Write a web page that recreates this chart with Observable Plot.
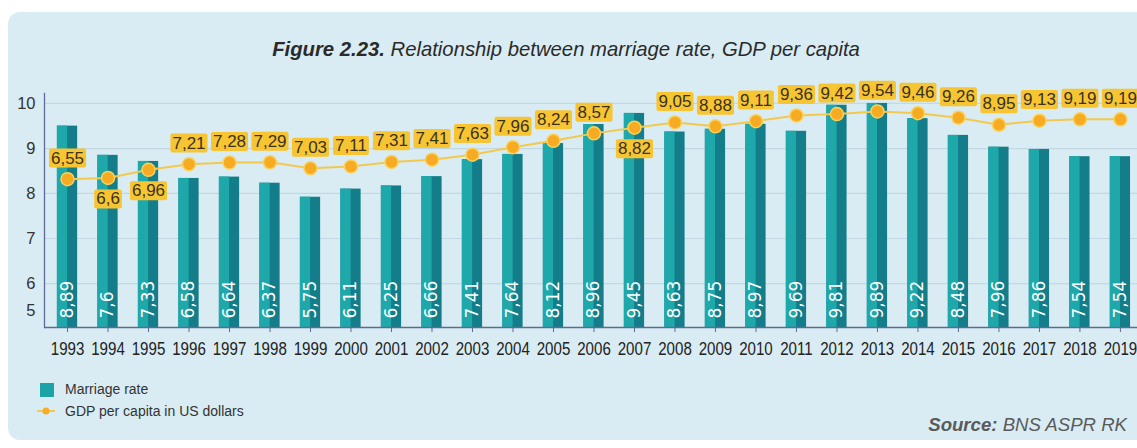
<!DOCTYPE html>
<html>
<head>
<meta charset="utf-8">
<script src="https://cdn.jsdelivr.net/npm/d3@7"></script>
<script src="https://cdn.jsdelivr.net/npm/@observablehq/plot@0.6"></script>
<style>
  html, body { margin: 0; padding: 0; background: #ffffff; }
  body { width: 1137px; height: 448px; overflow: hidden; position: relative; font-family: "Liberation Sans", Arial, sans-serif; }
  #panel { position: absolute; left: 8px; top: 12px; width: 1160px; height: 428px; background: #d9ecf3; border-radius: 12px; }
  #title { position: absolute; left: 0; top: 38px; width: 1132px; text-align: center; font-style: italic; font-size: 20.3px; color: #2a2a2a; }
  #chart { position: absolute; left: 0; top: 85px; }
  .leg { position: absolute; font-size: 14px; color: #333; }
  #source { position: absolute; right: 10px; top: 414px; font-style: italic; font-size: 18.6px; color: #5a5a5a; }
</style>
</head>
<body>
<div id="panel"></div>
<div id="title"><b>Figure 2.23.</b> Relationship between marriage rate, GDP per capita</div>
<div id="chart"></div>
<div class="leg" style="left:40px; top:383px; width:14px; height:14px; background:#1ba3a7;"></div>
<div class="leg" style="left:65px; top:381px;">Marriage rate</div>
<svg class="leg" style="left:36px; top:404px;" width="20" height="14"><line x1="1" y1="7" x2="19" y2="7" stroke="#f2c94c" stroke-width="2"/><circle cx="10" cy="7" r="3.5" fill="#f6ad24"/></svg>
<div class="leg" style="left:65px; top:403px;">GDP per capita in US dollars</div>
<div id="source"><b>Source:</b> BNS ASPR RK</div>
<script>
// ---- data ----
const years = [1993,1994,1995,1996,1997,1998,1999,2000,2001,2002,2003,2004,2005,2006,2007,2008,2009,2010,2011,2012,2013,2014,2015,2016,2017,2018,2019];
// marriage rate as drawn (bar heights)
const marriageRate = [8.89,7.6,7.33,6.58,6.64,6.37,5.75,6.11,6.25,6.66,7.41,7.64,8.12,8.96,9.45,8.63,8.75,8.97,8.66,9.81,9.89,9.22,8.48,7.96,7.86,7.54,7.54];
// labels as printed on the bars
const marriageLabels = ["8,89","7,6","7,33","6,58","6,64","6,37","5,75","6,11","6,25","6,66","7,41","7,64","8,12","8,96","9,45","8,63","8,75","8,97","9,69","9,81","9,89","9,22","8,48","7,96","7,86","7,54","7,54"];
// GDP per capita (line)
const gdpPerCapita = [6.55,6.6,6.96,7.21,7.28,7.29,7.03,7.11,7.31,7.41,7.63,7.96,8.24,8.57,8.82,9.05,8.88,9.11,9.36,9.42,9.54,9.46,9.26,8.95,9.13,9.19,9.19];
// years whose GDP label sits below the point
const gdpLabelBelow = [1994,1995,2007];
// the reference's left axis labels and where it places them on the bar scale
const yAxisLabels = ["10","9","8","7","6","5"];
const yAxisAt = [9.89,7.9,5.92,3.93,1.94,0.75];

const rows = years.map((year, i) => ({
  year,
  marriage: marriageRate[i],
  mLabel: marriageLabels[i],
  gdp: gdpPerCapita[i],
  gLabel: String(gdpPerCapita[i]).replace(".", ","),
  below: gdpLabelBelow.includes(year)
}));

const LABEL_FILL = "#3a3221";

const chart = Plot.plot({
  width: 1137,
  height: 280,
  marginLeft: 44,
  marginRight: 0,
  marginTop: 8,
  marginBottom: 38,
  style: { background: "transparent", fontFamily: "'Liberation Sans', Arial, sans-serif", overflow: "visible" },
  x: { type: "band", domain: years, padding: 0.5, paddingOuter: 0.245, align: 0.65, round: false, label: null },
  y: { domain: [0, 10.33], label: null },
  marks: [
    Plot.ruleY(yAxisAt.slice(0, 5), { stroke: "#c3d8e3", strokeWidth: 1.2 }),
    Plot.barY(rows, { x: "year", y: "marriage", fill: "#137d89" }),
    Plot.barY(rows, { x: "year", y: "marriage", fill: "#1fa8aa", insetRight: 10 }),
    Plot.text(rows, { x: "year", y: 0, text: "mLabel", rotate: -90, textAnchor: "start", dy: -9, fill: "#ffffff", fontSize: 17, fontFamily: "'DejaVu Sans', Verdana, sans-serif" }),
    Plot.frame({ anchor: "left", stroke: "#5b6b95", strokeWidth: 1.3 }),
    Plot.ruleY([0], { stroke: "#5b6b95", strokeWidth: 1.3 }),
    Plot.axisX({ tickSize: 5, tickPadding: 10, fontSize: 18, tickFormat: d => String(d), stroke: "#5b6b95", fill: "#222", label: null }),
    Plot.axisY({ ticks: yAxisAt, tickFormat: (d, i) => yAxisLabels[i], tickSize: 0, tickPadding: 9, fontSize: 16.5, fill: "#333", label: null }),
    Plot.line(rows, { x: "year", y: "gdp", stroke: "#f2c94c", strokeWidth: 2 }),
    Plot.dot(rows, { x: "year", y: "gdp", r: 6.5, fill: "#f6ab22", stroke: "#fbd15a", strokeWidth: 1.5 }),
    Plot.text(rows.filter(d => !d.below), { x: "year", y: "gdp", text: "gLabel", dy: -21, fill: LABEL_FILL, fontSize: 17 }),
    Plot.text(rows.filter(d => d.below), { x: "year", y: "gdp", text: "gLabel", dy: 21, fill: LABEL_FILL, fontSize: 17 })
  ]
});

document.getElementById("chart").appendChild(chart);

// condensed look for the year labels (the reference uses a narrow face)
chart.querySelectorAll('g[aria-label="x-axis tick label"] text').forEach(t => {
  const tr = t.getAttribute("transform") || "";
  t.setAttribute("transform", tr + " scale(0.84,1)");
});

// yellow label boxes behind the GDP value labels
chart.querySelectorAll(`g[fill="${LABEL_FILL}"] text`).forEach(t => {
  const b = t.getBBox();
  const r = document.createElementNS("http://www.w3.org/2000/svg", "rect");
  r.setAttribute("x", b.x - 2);
  r.setAttribute("y", b.y);
  r.setAttribute("width", b.width + 4);
  r.setAttribute("height", b.height);
  r.setAttribute("rx", 2);
  r.setAttribute("fill", "#f8c532");
  const tr = t.getAttribute("transform");
  if (tr) r.setAttribute("transform", tr);
  t.parentNode.insertBefore(r, t);
});
</script>
</body>
</html>
